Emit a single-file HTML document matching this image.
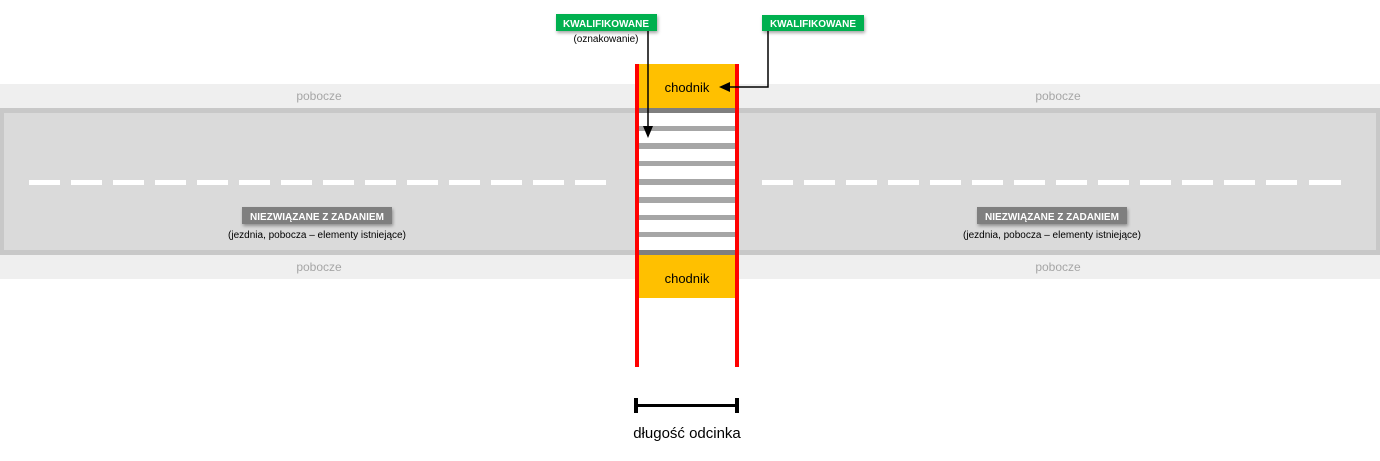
<!DOCTYPE html>
<html><head><meta charset="utf-8"><style>
html,body{margin:0;padding:0;background:#fff;}
svg{display:block;font-family:"Liberation Sans",sans-serif;}
</style></head><body>
<svg width="1380" height="461" viewBox="0 0 1380 461" xmlns="http://www.w3.org/2000/svg">
<defs>
<filter id="sh" x="-20%" y="-40%" width="140%" height="200%"><feDropShadow dx="1" dy="2" stdDeviation="1.5" flood-color="#000" flood-opacity="0.35"/></filter>
</defs>
<rect x="0" y="84" width="1380" height="24" fill="#efefef"/>
<rect x="0" y="255" width="1380" height="24" fill="#efefef"/>
<rect x="0" y="108" width="1380" height="147" fill="#c8c8c8"/>
<rect x="4" y="113" width="1372" height="137" fill="#dadada"/>
<g fill="#fff">
<rect x="29" y="180" width="31" height="5"/><rect x="71" y="180" width="31" height="5"/><rect x="113" y="180" width="31" height="5"/><rect x="155" y="180" width="31" height="5"/><rect x="197" y="180" width="31" height="5"/><rect x="239" y="180" width="31" height="5"/><rect x="281" y="180" width="31" height="5"/><rect x="323" y="180" width="31" height="5"/><rect x="365" y="180" width="31" height="5"/><rect x="407" y="180" width="31" height="5"/><rect x="449" y="180" width="31" height="5"/><rect x="491" y="180" width="31" height="5"/><rect x="533" y="180" width="31" height="5"/><rect x="575" y="180" width="31" height="5"/>
<rect x="762" y="180" width="31" height="5"/><rect x="804" y="180" width="31" height="5"/><rect x="846" y="180" width="31" height="5"/><rect x="888" y="180" width="31" height="5"/><rect x="930" y="180" width="31" height="5"/><rect x="972" y="180" width="31" height="5"/><rect x="1014" y="180" width="31" height="5"/><rect x="1056" y="180" width="31" height="5"/><rect x="1098" y="180" width="31" height="5"/><rect x="1140" y="180" width="31" height="5"/><rect x="1182" y="180" width="31" height="5"/><rect x="1224" y="180" width="31" height="5"/><rect x="1266" y="180" width="31" height="5"/><rect x="1309" y="180" width="32" height="5"/>
</g>
<g font-size="12" fill="#a6a6a6" text-anchor="middle">
<text x="319" y="100">pobocze</text><text x="1058" y="100">pobocze</text>
<text x="319" y="271">pobocze</text><text x="1058" y="271">pobocze</text>
</g>
<!-- crosswalk -->
<rect x="637" y="64" width="100" height="44" fill="#ffc000"/>
<rect x="637" y="255" width="100" height="43" fill="#ffc000"/>
<rect x="637" y="108" width="100" height="147" fill="#fff"/>
<g fill="#a6a6a6">
<rect x="637" y="108" width="100" height="5" fill="#7f7f7f"/>
<rect x="637" y="126" width="100" height="5"/><rect x="637" y="143" width="100" height="6"/><rect x="637" y="161" width="100" height="5"/><rect x="637" y="179" width="100" height="6"/><rect x="637" y="197" width="100" height="6"/><rect x="637" y="215" width="100" height="5"/><rect x="637" y="232" width="100" height="5"/>
<rect x="637" y="250" width="100" height="5" fill="#7f7f7f"/>
</g>
<rect x="635" y="64" width="4" height="303" fill="#ff0000"/>
<rect x="735" y="64" width="4" height="303" fill="#ff0000"/>
<g font-size="13" fill="#000" text-anchor="middle">
<text x="687" y="92">chodnik</text><text x="687" y="283">chodnik</text>
</g>
<!-- green labels -->
<rect x="556" y="14" width="101" height="17" fill="#00b050" filter="url(#sh)"/>
<text x="606" y="27" font-size="10" font-weight="bold" fill="#fff" text-anchor="middle">KWALIFIKOWANE</text>
<text x="606" y="42" font-size="10" fill="#000" text-anchor="middle">(oznakowanie)</text>
<rect x="762" y="15" width="102" height="16" fill="#00b050" filter="url(#sh)"/>
<text x="813" y="27" font-size="10" font-weight="bold" fill="#fff" text-anchor="middle">KWALIFIKOWANE</text>
<path d="M648 31 V127" stroke="#000" stroke-width="1.5" fill="none"/>
<path d="M643 126 L653 126 L648 138 Z" fill="#000"/>
<path d="M768 31 V87 H728" stroke="#000" stroke-width="1.5" fill="none"/>
<path d="M730 82 L730 92 L719 87 Z" fill="#000"/>
<!-- gray labels -->
<rect x="242" y="207" width="150" height="17" fill="#7f7f7f" filter="url(#sh)"/>
<text x="317" y="220" font-size="10" font-weight="bold" fill="#fff" text-anchor="middle">NIEZWIĄZANE Z ZADANIEM</text>
<text x="317" y="238" font-size="10" fill="#000" text-anchor="middle">(jezdnia, pobocza – elementy istniejące)</text>
<rect x="977" y="207" width="150" height="17" fill="#7f7f7f" filter="url(#sh)"/>
<text x="1052" y="220" font-size="10" font-weight="bold" fill="#fff" text-anchor="middle">NIEZWIĄZANE Z ZADANIEM</text>
<text x="1052" y="238" font-size="10" fill="#000" text-anchor="middle">(jezdnia, pobocza – elementy istniejące)</text>
<!-- measure -->
<rect x="634" y="398" width="4" height="15" fill="#000"/>
<rect x="735" y="398" width="4" height="15" fill="#000"/>
<rect x="636" y="404" width="101" height="3" fill="#000"/>
<text x="687" y="438" font-size="15" fill="#000" text-anchor="middle">długość odcinka</text>
</svg>
</body></html>
